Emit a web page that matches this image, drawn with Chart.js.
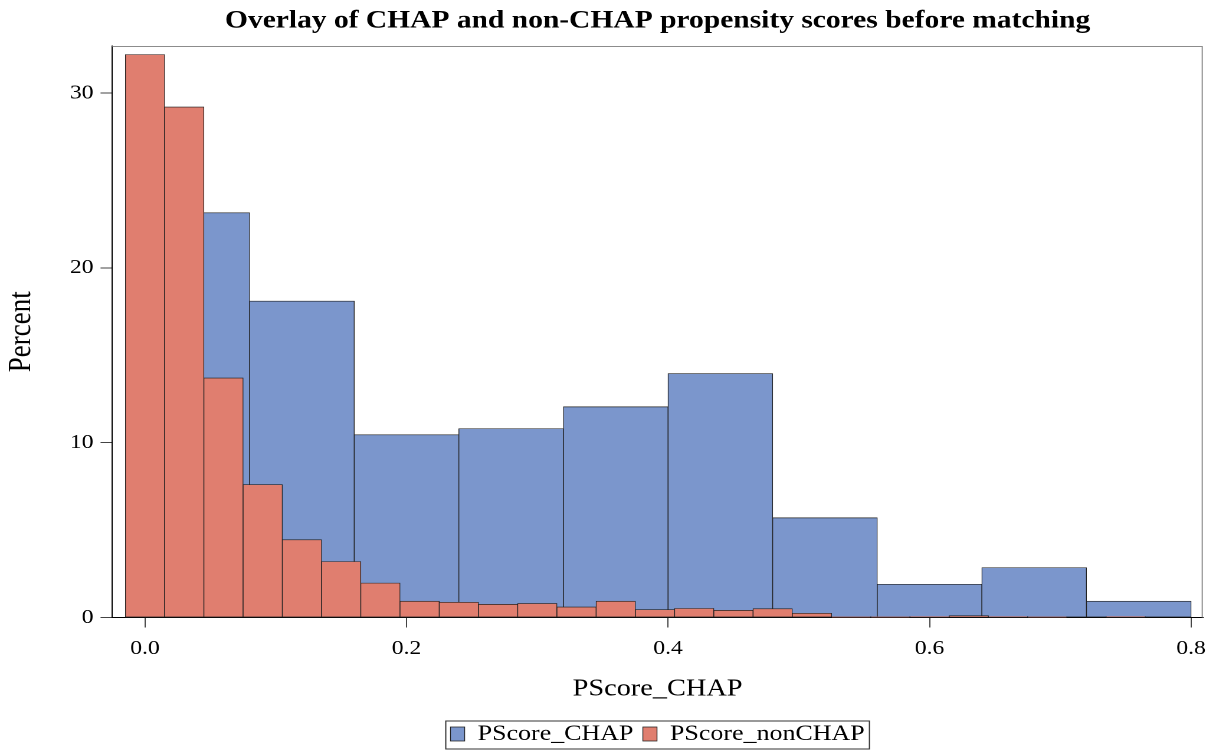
<!DOCTYPE html>
<html>
<head>
<meta charset="utf-8">
<script src="https://cdn.jsdelivr.net/npm/chart.js@4.4.1/dist/chart.umd.min.js"></script>
<style>
  html, body { margin: 0; padding: 0; background: #fff; overflow: hidden; }
  /* the source picture is stretched sideways, so the chart is too */
  #wrap { width: 1031px; height: 751px; transform: scaleX(1.18); transform-origin: 0 0; }
</style>
</head>
<body>
<div id="wrap"><canvas id="chart"></canvas></div>
<script>
// Bin midpoints and percentages
const chapMid = [0.04, 0.12, 0.20, 0.28, 0.36, 0.44, 0.52, 0.60, 0.68, 0.76];
const chapPct = [23.15, 18.1, 10.45, 10.8, 12.05, 13.95, 5.7, 1.9, 2.85, 0.93];

const nonChapMid = [0.00, 0.03, 0.06, 0.09, 0.12, 0.15, 0.18, 0.21, 0.24, 0.27,
                    0.30, 0.33, 0.36, 0.39, 0.42, 0.45, 0.48, 0.51, 0.54, 0.57,
                    0.60, 0.63, 0.66, 0.69, 0.72, 0.75, 0.78];
const nonChapPct = [32.2, 29.2, 13.7, 7.6, 4.45, 3.2, 1.97, 0.93, 0.87, 0.75,
                    0.8, 0.6, 0.93, 0.45, 0.52, 0.41, 0.5, 0.24, 0.03, 0.03,
                    0.05, 0.1, 0.05, 0.03, 0, 0.05, 0];

const xTicks = [0, 0.2, 0.4, 0.6, 0.8];
const yTicks = [0, 10, 20, 30];

const serif = "'Liberation Serif', 'Times New Roman', serif";
const xMin = -0.025, xMax = 0.809;

function toPoints(mids, vals) {
    return mids.map((m, i) => ({ x: m, y: vals[i] }));
}

// top/right frame lines + box round the legend
const framePlugin = {
    id: 'frame',
    afterDraw(chart) {
        const ctx = chart.ctx;
        const a = chart.chartArea;
        ctx.save();
        ctx.lineWidth = 1;
        ctx.strokeStyle = '#8c8c8c';
        ctx.beginPath();
        ctx.moveTo(a.left, a.top + 0.5);
        ctx.lineTo(a.right - 0.5, a.top + 0.5);
        ctx.lineTo(a.right - 0.5, a.bottom);
        ctx.stroke();

        const boxes = chart.legend.legendHitBoxes;
        if (boxes && boxes.length) {
            const left = Math.min(...boxes.map(b => b.left)) - 4;
            const right = Math.max(...boxes.map(b => b.left + b.width)) + 4;
            const top = boxes[0].top - 2;
            const h = boxes[0].height + 6;
            ctx.strokeStyle = '#333';
            ctx.strokeRect(left, top, right - left, h);
        }
        ctx.restore();
    }
};

const ctx = document.getElementById('chart').getContext('2d');
new Chart(ctx, {
    type: 'bar',
    data: {
        datasets: [{
            label: 'PScore_CHAP',
            data: toPoints(chapMid, chapPct),
            xAxisID: 'x',
            backgroundColor: '#7B96CC',
            borderColor: '#222',
            borderWidth: 0.7,
            borderSkipped: false,
            barPercentage: 1,
            categoryPercentage: 1,
            grouped: false,
            order: 2
        }, {
            label: 'PScore_nonCHAP',
            data: toPoints(nonChapMid, nonChapPct),
            xAxisID: 'x2',
            backgroundColor: '#E07E6F',
            borderColor: '#222',
            borderWidth: 0.7,
            borderSkipped: false,
            barPercentage: 1,
            categoryPercentage: 1,
            grouped: false,
            order: 1
        }]
    },
    options: {
        responsive: true,
        maintainAspectRatio: false,
        animation: false,
        devicePixelRatio: 2,
        layout: { padding: { left: 0, right: 10.7, top: 0, bottom: -4 } },
        plugins: {
            tooltip: { enabled: false },
            title: {
                display: true,
                text: 'Overlay of CHAP and non-CHAP propensity scores before matching',
                color: '#000',
                fullSize: false,
                font: { family: serif, size: 25, weight: 'bold' },
                padding: { top: 6, bottom: 10 }
            },
            legend: {
                position: 'bottom',
                fullSize: false,
                labels: {
                    color: '#000',
                    font: { family: serif, size: 22 },
                    boxWidth: 12,
                    boxHeight: 14,
                    padding: 8,
                    sort: (a, b) => a.datasetIndex - b.datasetIndex
                }
            }
        },
        scales: {
            x: {
                type: 'linear',
                position: 'bottom',
                min: xMin,
                max: xMax,
                offset: false,
                afterBuildTicks: s => { s.ticks = xTicks.map(v => ({ value: v })); },
                afterFit: s => { s.height = 97.5; },
                grid: { offset: false, drawOnChartArea: false, tickLength: 10, color: '#444' },
                border: { color: '#000', width: 1 },
                ticks: {
                    color: '#000',
                    font: { family: serif, size: 20 },
                    padding: 9,
                    maxRotation: 0,
                    autoSkip: false,
                    callback: v => v.toFixed(1)
                },
                title: {
                    display: true,
                    text: 'PScore_CHAP',
                    color: '#000',
                    font: { family: serif, size: 24 },
                    padding: { top: 0, bottom: 11.6 }
                }
            },
            x2: {
                type: 'linear',
                display: false,
                min: xMin,
                max: xMax,
                offset: false,
                afterBuildTicks: s => { s.ticks = xTicks.map(v => ({ value: v })); }
            },
            y: {
                min: 0,
                max: 32.69,
                afterBuildTicks: s => { s.ticks = yTicks.map(v => ({ value: v })); },
                afterFit: s => { s.width = 95.2; },
                grid: { drawOnChartArea: false, tickLength: 10, color: '#444' },
                border: { color: '#000', width: 1 },
                ticks: {
                    color: '#000',
                    font: { family: serif, size: 20 },
                    padding: 6
                },
                title: {
                    display: true,
                    text: 'Percent',
                    color: '#000',
                    font: { family: serif, size: 27 },
                    padding: { top: 2.4, bottom: 0 }
                }
            }
        }
    },
    plugins: [framePlugin]
});
</script>
</body>
</html>
